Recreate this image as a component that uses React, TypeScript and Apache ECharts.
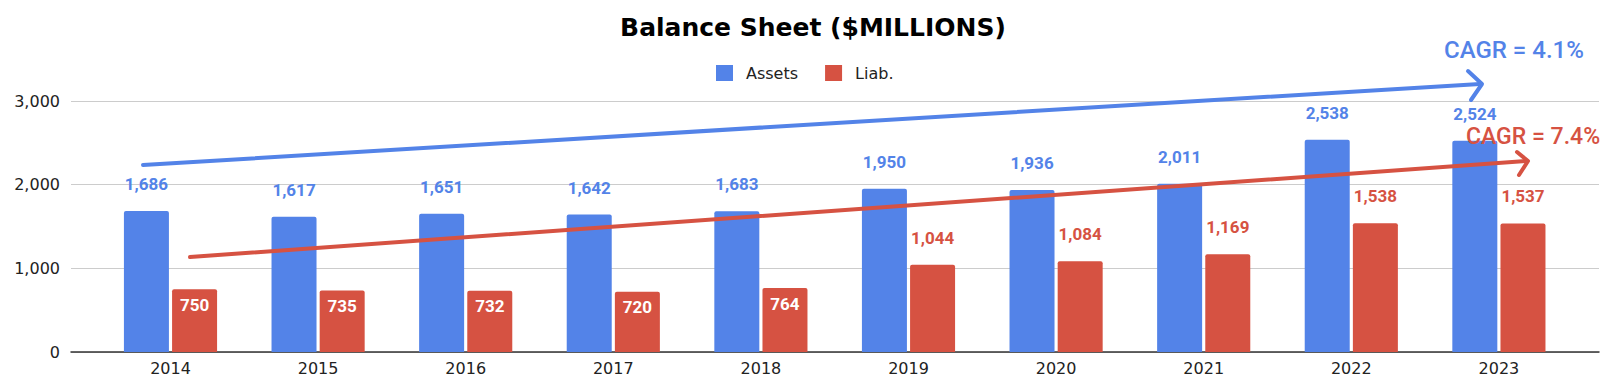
import React, { useEffect, useRef } from "react";
import * as echarts from "echarts";

const categories = ["2014", "2015", "2016", "2017", "2018", "2019", "2020", "2021", "2022", "2023"];
const assets = [1686, 1617, 1651, 1642, 1683, 1950, 1936, 2011, 2538, 2524];
const liab = [750, 735, 732, 720, 764, 1044, 1084, 1169, 1538, 1537];
const yMin = 0;
const yMax = 3000;
const yInterval = 1000;
const titleText = "Balance Sheet ($MILLIONS)";
const cagrAssets = "CAGR = 4.1%";
const cagrLiab = "CAGR = 7.4%";

const BLUE = "#5383E8";
const RED = "#D65242";
const fmt = (v: number) => v.toLocaleString("en-US");

export default function App() {
  const ref = useRef<HTMLDivElement>(null);
  useEffect(() => {
    if (!ref.current) return;
    const chart = echarts.init(ref.current, undefined, { renderer: "svg" });
    const topLabel = (color: string) => ({
      show: true,
      position: "top",
      distance: 20,
      color,
      fontFamily: "Roboto",
      fontWeight: "bold",
      fontSize: 17,
      lineHeight: 14,
      formatter: (p: any) => fmt(p.value),
    });
    const insideLabel = {
      show: true,
      position: "insideTop",
      distance: 8.5,
      color: "#ffffff",
      fontFamily: "Roboto",
      fontWeight: "bold",
      fontSize: 17,
      lineHeight: 14,
      formatter: (p: any) => fmt(p.value),
    };
    chart.setOption({
      animation: false,
      title: {
        text: titleText,
        left: 808,
        textAlign: "center",
        top: 10,
        textStyle: { fontFamily: "DejaVu Sans", fontWeight: "bold", fontSize: 25, color: "#000" },
      },
      legend: {
        top: 60,
        left: 711,
        icon: "rect",
        itemWidth: 17,
        itemHeight: 16,
        itemGap: 27,
        textStyle: { fontFamily: "DejaVu Sans", fontSize: 16, color: "#222", padding: [0, 0, 0, 8] },
        data: ["Assets", "Liab."],
      },
      grid: [
        { left: 71, right: 6, top: 101, bottom: 32 },
        { left: 96.7, right: 32.3, top: 101, bottom: 32 },
      ],
      xAxis: [
        {
          type: "value",
          gridIndex: 0,
          min: 0,
          max: 1,
          axisLabel: { show: false },
          axisTick: { show: false },
          splitLine: { show: false },
          axisLine: { show: true, lineStyle: { color: "#333", width: 1.5 } },
        },
        {
          type: "category",
          gridIndex: 1,
          data: categories,
          axisLine: { show: false },
          axisTick: { show: false },
          axisLabel: { margin: 8, fontFamily: "DejaVu Sans", fontSize: 16, color: "#222" },
        },
      ],
      yAxis: [
        {
          type: "value",
          gridIndex: 0,
          min: yMin,
          max: yMax,
          interval: yInterval,
          axisLabel: {
            margin: 11,
            fontFamily: "DejaVu Sans",
            fontSize: 16,
            color: "#222",
            formatter: (v: number) => fmt(v),
          },
          axisLine: { show: false },
          axisTick: { show: false },
          splitLine: { show: true, lineStyle: { color: "#cccccc", width: 1 } },
        },
        {
          type: "value",
          gridIndex: 1,
          min: yMin,
          max: yMax,
          interval: yInterval,
          show: false,
          splitLine: { show: false },
        },
      ],
      series: [
        {
          name: "Assets",
          type: "bar",
          xAxisIndex: 1,
          yAxisIndex: 1,
          barWidth: 45,
          barGap: "7%",
          itemStyle: { color: BLUE, borderRadius: [2, 2, 0, 0] },
          label: topLabel(BLUE),
          data: assets,
        },
        {
          name: "Liab.",
          type: "bar",
          xAxisIndex: 1,
          yAxisIndex: 1,
          barWidth: 45,
          barGap: "7%",
          itemStyle: { color: RED, borderRadius: [2, 2, 0, 0] },
          data: liab.map((v) => ({ value: v, label: v < 1000 ? insideLabel : topLabel(RED) })),
        },
      ],
      graphic: [
        {
          type: "polyline",
          z: 100,
          shape: { points: [[143, 165], [1480, 84]] },
          style: { stroke: BLUE, lineWidth: 4, lineCap: "round", fill: null },
        },
        {
          type: "polyline",
          z: 100,
          shape: { points: [[1468, 71], [1482, 84], [1471, 100]] },
          style: { stroke: BLUE, lineWidth: 4, lineCap: "round", lineJoin: "round", fill: null },
        },
        {
          type: "polyline",
          z: 100,
          shape: { points: [[190, 257], [1526, 161]] },
          style: { stroke: RED, lineWidth: 4, lineCap: "round", fill: null },
        },
        {
          type: "polyline",
          z: 100,
          shape: { points: [[1517, 152], [1528, 161], [1519, 175]] },
          style: { stroke: RED, lineWidth: 4, lineCap: "round", lineJoin: "round", fill: null },
        },
        {
          type: "text",
          z: 100,
          x: 1444,
          y: 49.5,
          style: {
            text: cagrAssets,
            fill: BLUE,
            font: "500 24px Roboto",
            lineHeight: 18,
            textAlign: "left",
            textVerticalAlign: "middle",
          },
        },
        {
          type: "text",
          z: 100,
          x: 1466,
          y: 136,
          style: {
            text: cagrLiab,
            fill: RED,
            font: "500 23px Roboto",
            lineHeight: 17,
            textAlign: "left",
            textVerticalAlign: "middle",
          },
        },
      ],
    });
    return () => chart.dispose();
  }, []);
  return <div ref={ref} style={{ width: 1605, height: 384, position: "absolute", left: 0, top: 0 }} />;
}
